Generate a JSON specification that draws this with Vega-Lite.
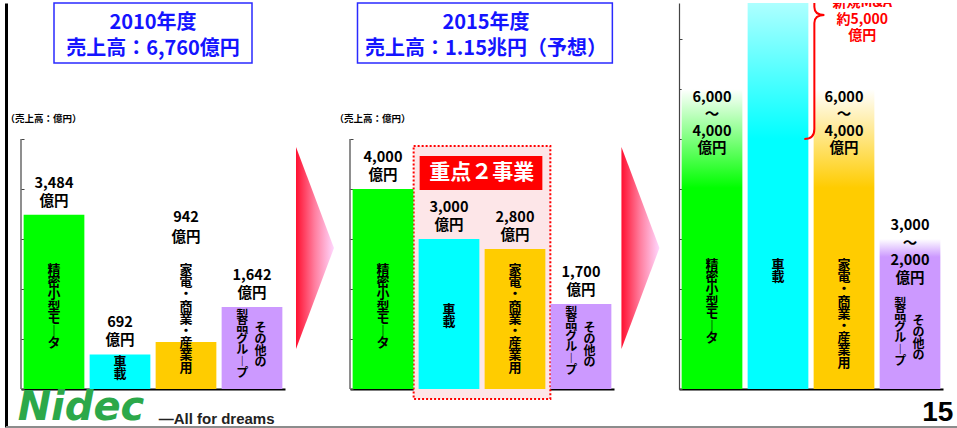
{
  "$schema": "https://vega.github.io/schema/vega-lite/v6.json",
  "padding": {"left": 5, "top": 2, "right": 0, "bottom": 0},
  "bounds": "flush",
  "spacing": 0,
  "background": "white",
  "config": {
    "view": {"stroke": null},
    "font": "Noto Sans CJK JP",
    "text": {"font": "Noto Sans CJK JP", "fontWeight": "bold", "color": "#000000"},
    "axis": {"grid": false, "labels": false, "zindex": 1}
  },
  "datasets": {
    "p1": [
      {"seg": "精密小型モータ", "value": 3484, "vlabel": ["3,484", "億円"], "clabel": ["精", "密", "小", "型", "モ", "︱", "タ"]},
      {"seg": "車載", "value": 692, "vlabel": ["692", "億円"], "clabel": ["車", "載"]},
      {"seg": "家電・商業・産業用", "value": 942, "vlabel": ["942", "億円"], "clabel": ["家", "電", "・", "商", "業", "・", "産", "業", "用"]},
      {"seg": "その他製品グループ", "value": 1642, "vlabel": ["1,642", "億円"], "clabel": ["製", "品", "グ", "ル", "︱", "プ"], "clabel2": ["そ", "の", "他", "の"]}
    ],
    "p2": [
      {"seg": "精密小型モータ", "value": 4000, "vlabel": ["4,000", "億円"], "clabel": ["精", "密", "小", "型", "モ", "︱", "タ"]},
      {"seg": "車載", "value": 3000, "vlabel": ["3,000", "億円"], "clabel": ["車", "載"]},
      {"seg": "家電・商業・産業用", "value": 2800, "vlabel": ["2,800", "億円"], "clabel": ["家", "電", "・", "商", "業", "・", "産", "業", "用"]},
      {"seg": "その他製品グループ", "value": 1700, "vlabel": ["1,700", "億円"], "clabel": ["製", "品", "グ", "ル", "︱", "プ"], "clabel2": ["そ", "の", "他", "の"]}
    ],
    "p3": [
      {"seg": "精密小型モータ", "low": 4000, "value": 6000, "vlabel": ["6,000", "～", "4,000", "億円"], "clabel": ["精", "密", "小", "型", "モ", "︱", "タ"]},
      {"seg": "車載", "value": 9000, "clabel": ["車", "載"]},
      {"seg": "家電・商業・産業用", "low": 4000, "value": 6000, "vlabel": ["6,000", "～", "4,000", "億円"], "clabel": ["家", "電", "・", "商", "業", "・", "産", "業", "用"]},
      {"seg": "その他製品グループ", "low": 2000, "value": 3000, "vlabel": ["3,000", "～", "2,000", "億円"], "clabel": ["製", "品", "グ", "ル", "︱", "プ"], "clabel2": ["そ", "の", "他", "の"]}
    ]
  },
  "hconcat": [
    {
      "width": 15, "height": 424,
      "data": {"values": [{"k": 1}]},
      "layer": [
        {
          "mark": {"type": "point", "opacity": 0},
          "encoding": {
            "y": {"datum": 0, "type": "quantitative", "scale": {"domain": [0, 1]}, "axis": {"title": null, "ticks": false, "labels": false, "domainColor": "#000000", "domainWidth": 3}}
          }
        },
        {
          "mark": {"type": "rule", "color": "#8c8c8c", "strokeWidth": 2},
          "encoding": {
            "x": {"datum": 0, "type": "quantitative", "scale": {"domain": [0, 1]}, "axis": null},
            "x2": {"datum": 63.47},
            "y": {"datum": 0, "type": "quantitative"}
          }
        }
      ]
    },
    {
      "width": 264, "height": 386,
      "data": {"name": "p1"},
      "encoding": {
        "x": {"field": "seg", "type": "nominal", "sort": null, "scale": {"domain": ["精密小型モータ", "車載", "家電・商業・産業用", "その他製品グループ"], "paddingInner": 0.08, "paddingOuter": 0.04}, "axis": {"title": null, "labels": false, "ticks": false, "domainColor": "#000000", "domainWidth": 2}},
        "y": {"field": "value", "type": "quantitative", "scale": {"domain": [0, 7720]}, "axis": {"title": "（売上高：億円）", "values": [0, 1000, 2000, 3000, 4000, 5000], "labels": false, "domain": false, "tickSize": -3, "tickColor": "#444444", "titleAngle": 0, "titleAlign": "left", "titleBaseline": "middle", "titleX": -16, "titleY": 115, "titleFontSize": 9.5, "titleFont": "Noto Sans CJK JP", "titleFontWeight": "bold", "titleColor": "#000000"}}
      },
      "layer": [
        {"transform": [{"filter": "datum.seg === '精密小型モータ'"}], "mark": {"type": "rect", "fill": "white", "stroke": "#2a2aff", "strokeWidth": 1.5}, "encoding": {"x": {"datum": "精密小型モータ", "bandPosition": 0.5}, "x2": {"datum": "その他製品グループ", "bandPosition": 0.5}, "y": {"datum": 6520}, "y2": {"datum": 7720}}},
        {"transform": [{"filter": "datum.seg === '精密小型モータ'"}], "mark": {"type": "text", "text": ["2010年度", "売上高：6,760億円"], "color": "#1414ff", "fontSize": 20, "lineHeight": 26, "baseline": "top"}, "encoding": {"x": {"datum": "車載", "bandPosition": 1.0435}, "y": {"datum": 7516}}},
        {"transform": [{"filter": "datum.seg === '精密小型モータ'"}], "mark": {"type": "rule", "color": "#444444", "strokeWidth": 1.2, "xOffset": -2.64}, "encoding": {"x": {"datum": "精密小型モータ", "bandPosition": 0}, "y": {"datum": 0}, "y2": {"datum": 5000}}},
        {"mark": {"type": "bar"}, "encoding": {"color": {"field": "seg", "type": "nominal", "scale": {"domain": ["精密小型モータ", "車載", "家電・商業・産業用", "その他製品グループ"], "range": ["#00ff00", "#00ffff", "#ffcc00", "#cc99ff"]}, "legend": null}}},
        {"transform": [{"filter": "datum.seg !== '家電・商業・産業用'"}], "mark": {"type": "text", "baseline": "top", "dy": -38, "fontSize": 14.5, "lineHeight": 18}, "encoding": {"text": {"field": "vlabel"}}},
        {"transform": [{"filter": "datum.seg === '家電・商業・産業用'"}], "mark": {"type": "text", "baseline": "top", "fontSize": 14.5, "lineHeight": 20}, "encoding": {"y": {"datum": 3568}, "text": {"field": "vlabel"}}},
        {"transform": [{"filter": "datum.seg === '精密小型モータ' || datum.seg === '家電・商業・産業用'"}], "mark": {"type": "text", "baseline": "top", "fontSize": 13, "lineHeight": 12.2}, "encoding": {"y": {"datum": 2500}, "text": {"field": "clabel"}}},
        {"transform": [{"filter": "datum.seg === '車載'"}], "mark": {"type": "text", "baseline": "top", "fontSize": 13, "lineHeight": 12.2}, "encoding": {"y": {"datum": 660}, "text": {"field": "clabel"}}},
        {"transform": [{"filter": "datum.seg === 'その他製品グループ'"}], "mark": {"type": "text", "baseline": "top", "fontSize": 12, "lineHeight": 11.4}, "encoding": {"x": {"datum": "その他製品グループ", "bandPosition": 0.34}, "y": {"datum": 1560}, "text": {"field": "clabel"}}},
        {"transform": [{"filter": "datum.seg === 'その他製品グループ'"}], "mark": {"type": "text", "baseline": "top", "fontSize": 12, "lineHeight": 11.4}, "encoding": {"x": {"datum": "その他製品グループ", "bandPosition": 0.64}, "y": {"datum": 1320}, "text": {"field": "clabel2"}}},
        {"transform": [{"filter": "datum.seg === '精密小型モータ'"}], "mark": {"type": "text", "text": "Nidec", "font": "DejaVu Sans", "fontStyle": "italic", "fontWeight": "bold", "fontSize": 40, "color": "#2ca84a", "align": "left", "baseline": "alphabetic", "xOffset": -6}, "encoding": {"x": {"datum": "精密小型モータ", "bandPosition": 0}, "y": {"datum": -620}}},
        {"transform": [{"filter": "datum.seg === '精密小型モータ'"}], "mark": {"type": "text", "text": "—All for dreams", "font": "Liberation Sans", "fontWeight": "bold", "fontSize": 15, "color": "#222222", "align": "left", "baseline": "alphabetic", "xOffset": 3}, "encoding": {"x": {"datum": "家電・商業・産業用", "bandPosition": 0}, "y": {"datum": -690}}}
      ]
    },
    {
      "width": 64.5, "height": 386,
      "data": {"values": [{"k": 1}]},
      "mark": {"type": "point", "shape": "M -0.188 -1 L 0.188 0 L -0.188 1 Z", "size": 40804, "filled": true, "opacity": 1, "strokeWidth": 0, "fill": {"gradient": "linear", "x1": 0, "y1": 0, "x2": 1, "y2": 0, "stops": [{"offset": 0, "color": "#ff1030"}, {"offset": 0.5, "color": "#ff7fa0"}, {"offset": 1, "color": "#ffd8ff"}]}},
      "encoding": {
        "x": {"datum": 0.465, "type": "quantitative", "scale": {"domain": [0, 1]}, "axis": null},
        "y": {"datum": 2820, "type": "quantitative", "scale": {"domain": [0, 7720]}, "axis": null}
      }
    },
    {
      "width": 264, "height": 386,
      "data": {"name": "p2"},
      "encoding": {
        "x": {"field": "seg", "type": "nominal", "sort": null, "scale": {"domain": ["精密小型モータ", "車載", "家電・商業・産業用", "その他製品グループ"], "paddingInner": 0.08, "paddingOuter": 0.04}, "axis": {"title": null, "labels": false, "ticks": false, "domainColor": "#000000", "domainWidth": 2}},
        "y": {"field": "value", "type": "quantitative", "scale": {"domain": [0, 7720]}, "axis": {"title": "（売上高：億円）", "values": [0, 1000, 2000, 3000, 4000, 5000], "labels": false, "domain": false, "tickSize": -3, "tickColor": "#444444", "titleAngle": 0, "titleAlign": "left", "titleBaseline": "middle", "titleX": -16, "titleY": 115, "titleFontSize": 9.5, "titleFont": "Noto Sans CJK JP", "titleFontWeight": "bold", "titleColor": "#000000"}}
      },
      "layer": [
        {"transform": [{"filter": "datum.seg === '精密小型モータ'"}], "mark": {"type": "rect", "fill": "white", "stroke": "#2a2aff", "strokeWidth": 1.5, "x2Offset": 1}, "encoding": {"x": {"datum": "精密小型モータ", "bandPosition": 0.08}, "x2": {"datum": "その他製品グループ", "bandPosition": 1}, "y": {"datum": 6520}, "y2": {"datum": 7720}}},
        {"transform": [{"filter": "datum.seg === '精密小型モータ'"}], "mark": {"type": "text", "text": ["2015年度", "売上高：1.15兆円（予想）"], "color": "#1414ff", "fontSize": 20, "lineHeight": 26, "baseline": "top"}, "encoding": {"x": {"datum": "車載", "bandPosition": 1.109}, "y": {"datum": 7516}}},
        {"transform": [{"filter": "datum.seg === '精密小型モータ'"}], "mark": {"type": "rule", "color": "#444444", "strokeWidth": 1.2, "xOffset": -2.64}, "encoding": {"x": {"datum": "精密小型モータ", "bandPosition": 0}, "y": {"datum": 0}, "y2": {"datum": 5000}}},
        {"transform": [{"filter": "datum.seg === '精密小型モータ'"}], "mark": {"type": "rect", "fill": "#fde6e8", "stroke": "#ff0000", "strokeWidth": 2, "strokeDash": [2, 2], "xOffset": -5, "x2Offset": 5}, "encoding": {"x": {"datum": "車載", "bandPosition": 0}, "x2": {"datum": "家電・商業・産業用", "bandPosition": 1}, "y": {"datum": 4860}, "y2": {"datum": -200}}},
        {"mark": {"type": "bar"}, "encoding": {"color": {"field": "seg", "type": "nominal", "scale": {"domain": ["精密小型モータ", "車載", "家電・商業・産業用", "その他製品グループ"], "range": ["#00ff00", "#14ecf6", "#f9c30c", "#cc99ff"]}, "legend": null}}},
        {"transform": [{"filter": "datum.seg === '精密小型モータ'"}], "mark": {"type": "rect", "fill": "#ff0000", "xOffset": 1, "x2Offset": -3}, "encoding": {"x": {"datum": "車載", "bandPosition": 0}, "x2": {"datum": "家電・商業・産業用", "bandPosition": 1}, "y": {"datum": 4660}, "y2": {"datum": 3980}}},
        {"transform": [{"filter": "datum.seg === '精密小型モータ'"}], "mark": {"type": "text", "text": "重点２事業", "color": "#ffffff", "fontSize": 21, "baseline": "middle", "xOffset": 2.5}, "encoding": {"x": {"datum": "車載", "bandPosition": 1}, "y": {"datum": 4320}}},
        {"mark": {"type": "text", "baseline": "top", "dy": -38, "fontSize": 14.5, "lineHeight": 18}, "encoding": {"text": {"field": "vlabel"}}},
        {"transform": [{"filter": "datum.seg === '精密小型モータ' || datum.seg === '家電・商業・産業用'"}], "mark": {"type": "text", "baseline": "top", "fontSize": 13, "lineHeight": 12.2}, "encoding": {"y": {"datum": 2500}, "text": {"field": "clabel"}}},
        {"transform": [{"filter": "datum.seg === '車載'"}], "mark": {"type": "text", "baseline": "top", "fontSize": 13, "lineHeight": 12.2}, "encoding": {"y": {"datum": 1700}, "text": {"field": "clabel"}}},
        {"transform": [{"filter": "datum.seg === 'その他製品グループ'"}], "mark": {"type": "text", "baseline": "top", "fontSize": 12, "lineHeight": 11.4}, "encoding": {"x": {"datum": "その他製品グループ", "bandPosition": 0.34}, "y": {"datum": 1620}, "text": {"field": "clabel"}}},
        {"transform": [{"filter": "datum.seg === 'その他製品グループ'"}], "mark": {"type": "text", "baseline": "top", "fontSize": 12, "lineHeight": 11.4}, "encoding": {"x": {"datum": "その他製品グループ", "bandPosition": 0.64}, "y": {"datum": 1320}, "text": {"field": "clabel2"}}}
      ]
    },
    {
      "width": 64.5, "height": 386,
      "data": {"values": [{"k": 1}]},
      "mark": {"type": "point", "shape": "M -0.188 -1 L 0.188 0 L -0.188 1 Z", "size": 40804, "filled": true, "opacity": 1, "strokeWidth": 0, "fill": {"gradient": "linear", "x1": 0, "y1": 0, "x2": 1, "y2": 0, "stops": [{"offset": 0, "color": "#ff1030"}, {"offset": 0.5, "color": "#ff7fa0"}, {"offset": 1, "color": "#ffd8ff"}]}},
      "encoding": {
        "x": {"datum": 0.41, "type": "quantitative", "scale": {"domain": [0, 1]}, "axis": null},
        "y": {"datum": 2820, "type": "quantitative", "scale": {"domain": [0, 7720]}, "axis": null}
      }
    },
    {
      "width": 264, "height": 386,
      "data": {"name": "p3"},
      "encoding": {
        "x": {"field": "seg", "type": "nominal", "sort": null, "scale": {"domain": ["精密小型モータ", "車載", "家電・商業・産業用", "その他製品グループ"], "paddingInner": 0.08, "paddingOuter": 0.04}, "axis": {"title": null, "labels": false, "ticks": false, "domainColor": "#000000", "domainWidth": 2}},
        "y": {"field": "value", "type": "quantitative", "scale": {"domain": [0, 7720]}, "axis": {"title": null, "values": [0, 1000, 2000, 3000, 4000, 5000, 6000, 7000], "labels": false, "tickSize": -3, "tickColor": "#444444", "domainColor": "#444444", "domainWidth": 1.2}}
      },
      "layer": [
        {"transform": [{"filter": "datum.seg === '精密小型モータ'"}], "mark": {"type": "bar", "fill": {"gradient": "linear", "x1": 0, "y1": 0, "x2": 0, "y2": 1, "stops": [{"offset": 0, "color": "#ffffff"}, {"offset": 0.33, "color": "#00ff00"}, {"offset": 1, "color": "#00ff00"}]}}},
        {"transform": [{"filter": "datum.seg === '車載'"}], "mark": {"type": "bar", "clip": true, "fill": {"gradient": "linear", "x1": 0, "y1": 0, "x2": 0, "y2": 1, "stops": [{"offset": 0, "color": "#ffffff"}, {"offset": 0.444, "color": "#00ffff"}, {"offset": 1, "color": "#00ffff"}]}}},
        {"transform": [{"filter": "datum.seg === '家電・商業・産業用'"}], "mark": {"type": "bar", "fill": {"gradient": "linear", "x1": 0, "y1": 0, "x2": 0, "y2": 1, "stops": [{"offset": 0, "color": "#ffffff"}, {"offset": 0.33, "color": "#ffcc00"}, {"offset": 1, "color": "#ffcc00"}]}}},
        {"transform": [{"filter": "datum.seg === 'その他製品グループ'"}], "mark": {"type": "bar", "fill": {"gradient": "linear", "x1": 0, "y1": 0, "x2": 0, "y2": 1, "stops": [{"offset": 0, "color": "#ffffff"}, {"offset": 0.12, "color": "#cc99ff"}, {"offset": 1, "color": "#cc99ff"}]}}},
        {"transform": [{"filter": "datum.seg === '精密小型モータ' || datum.seg === '家電・商業・産業用'"}], "mark": {"type": "text", "baseline": "top", "dy": 2, "fontSize": 14.5, "lineHeight": 17}, "encoding": {"text": {"field": "vlabel"}}},
        {"transform": [{"filter": "datum.seg === 'その他製品グループ'"}], "mark": {"type": "text", "baseline": "top", "fontSize": 14.5, "lineHeight": 17.5}, "encoding": {"y": {"datum": 3400}, "text": {"field": "vlabel"}}},
        {"transform": [{"filter": "datum.seg !== 'その他製品グループ'"}], "mark": {"type": "text", "baseline": "top", "fontSize": 13, "lineHeight": 12.2}, "encoding": {"y": {"datum": 2600}, "text": {"field": "clabel"}}},
        {"transform": [{"filter": "datum.seg === 'その他製品グループ'"}], "mark": {"type": "text", "baseline": "top", "fontSize": 12, "lineHeight": 11.4}, "encoding": {"x": {"datum": "その他製品グループ", "bandPosition": 0.34}, "y": {"datum": 1800}, "text": {"field": "clabel"}}},
        {"transform": [{"filter": "datum.seg === 'その他製品グループ'"}], "mark": {"type": "text", "baseline": "top", "fontSize": 12, "lineHeight": 11.4}, "encoding": {"x": {"datum": "その他製品グループ", "bandPosition": 0.64}, "y": {"datum": 1460}, "text": {"field": "clabel2"}}},
        {"transform": [{"filter": "datum.seg === '車載'"}], "mark": {"type": "point", "shape": "M -0.081 1 Q 0 1 0 0.919 L 0 0.065 Q 0 0 0.081 0 Q 0 0 0 -0.065 L 0 -0.919 Q 0 -1 -0.081 -1", "size": 61504, "filled": false, "stroke": "#ff0000", "strokeWidth": 2, "opacity": 1, "clip": true, "xOffset": 6}, "encoding": {"x": {"datum": "車載", "bandPosition": 1}, "y": {"datum": 7480}}},
        {"transform": [{"filter": "datum.seg === '車載'"}], "mark": {"type": "text", "text": ["新規M&A", "約5,000", "億円"], "color": "#ff0000", "fontSize": 14, "lineHeight": 16.5, "baseline": "top", "clip": true}, "encoding": {"x": {"datum": "家電・商業・産業用", "bandPosition": 0.8}, "y": {"datum": 7860}}},
        {"transform": [{"filter": "datum.seg === '車載'"}], "mark": {"type": "text", "text": "15", "font": "Liberation Sans", "fontWeight": "bold", "fontSize": 28, "align": "right", "baseline": "alphabetic", "xOffset": 13}, "encoding": {"x": {"datum": "その他製品グループ", "bandPosition": 1}, "y": {"datum": -640}}}
      ]
    }
  ]
}
